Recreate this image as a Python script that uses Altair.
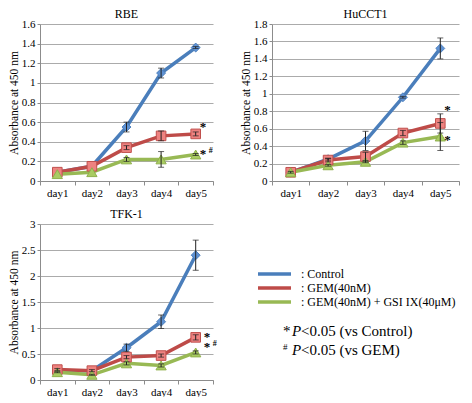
import altair as alt
import pandas as pd

days = ["day1", "day2", "day3", "day4", "day5"]
series = ["Control", "GEM(40nM)", "GEM(40nM) + GSI IX(40μM)"]

# RBE
rbe_control = [0.09, 0.15, 0.55, 1.10, 1.36]
rbe_gem = [0.09, 0.15, 0.34, 0.46, 0.48]
rbe_gsi = [0.07, 0.09, 0.22, 0.22, 0.27]
rbe_control_err = [0.0, 0.0, 0.05, 0.05, 0.01]
rbe_gem_err = [0.0, 0.0, 0.02, 0.05, 0.02]
rbe_gsi_err = [0.0, 0.0, 0.02, 0.08, 0.01]

# HuCCT1
hu_control = [0.10, 0.25, 0.46, 0.96, 1.52]
hu_gem = [0.10, 0.24, 0.28, 0.55, 0.66]
hu_gsi = [0.10, 0.18, 0.22, 0.44, 0.51]
hu_control_err = [0.01, 0.01, 0.11, 0.01, 0.12]
hu_gem_err = [0.0, 0.02, 0.05, 0.03, 0.11]
hu_gsi_err = [0.0, 0.01, 0.01, 0.02, 0.16]

# TFK-1
tfk_control = [0.18, 0.18, 0.62, 1.12, 2.40]
tfk_gem = [0.20, 0.18, 0.44, 0.47, 0.82]
tfk_gsi = [0.15, 0.10, 0.32, 0.28, 0.53]
tfk_control_err = [0.0, 0.0, 0.07, 0.13, 0.29]
tfk_gem_err = [0.02, 0.02, 0.03, 0.03, 0.05]
tfk_gsi_err = [0.01, 0.01, 0.03, 0.03, 0.03]

legend_labels = [": Control", ": GEM(40nM)", ": GEM(40nM) + GSI IX(40μM)"]
note_marks = ["*", "#"]
note_texts = ["<0.05 (vs Control)", "<0.05 (vs GEM)"]

line_colors = ["#4A7EBB", "#BE4B48", "#98B954"]
fill_colors = ["#5F92D4", "#EE8280", "#A9CC62"]
stroke_colors = ["#4F81BD", "#C0504D", "#8FB04C"]
shapes = ["diamond", "square", "triangle-up"]
sizes = [80, 105, 90]

SERIF = "Liberation Serif"

panels = {
    "RBE": ([rbe_control, rbe_gem, rbe_gsi], [rbe_control_err, rbe_gem_err, rbe_gsi_err]),
    "HuCCT1": ([hu_control, hu_gem, hu_gsi], [hu_control_err, hu_gem_err, hu_gsi_err]),
    "TFK-1": ([tfk_control, tfk_gem, tfk_gsi], [tfk_control_err, tfk_gem_err, tfk_gsi_err]),
}


def make_df(name):
    vals, errs = panels[name]
    rows = []
    for s, v, e in zip(series, vals, errs):
        for d, vv, ee in zip(days, v, e):
            rows.append({"day": d, "series": s, "mk": s, "value": vv, "err": ee,
                         "lo": vv - ee, "hi": vv + ee})
    return pd.DataFrame(rows)


def panel(name, ymax, ystep, width, height, notes):
    df = make_df(name)
    ticks = [round(i * ystep, 2) for i in range(int(round(ymax / ystep)) + 1)]
    xenc = alt.X("day:N", sort=days,
                 scale=alt.Scale(type="band", paddingInner=0, paddingOuter=0),
                 axis=alt.Axis(title=None, tickBand="extent", labelAngle=0, grid=False,
                               domainColor="#8c8c8c", tickColor="#8c8c8c", tickSize=4,
                               labelFont=SERIF, labelFontSize=11, labelColor="black",
                               labelPadding=2))

    def yenc(field):
        return alt.Y(f"{field}:Q", scale=alt.Scale(domain=[0, ymax], nice=False, zero=True),
                     axis=alt.Axis(title="Absorbance at 450 nm", values=ticks, format="~g",
                                   grid=True, gridColor="#ababab", gridWidth=1,
                                   domainColor="#8c8c8c", tickColor="#8c8c8c", tickSize=3,
                                   labelFont=SERIF, labelFontSize=11, labelColor="black",
                                   labelPadding=2, titleFont=SERIF, titleFontSize=11.5,
                                   titleFontWeight="normal", titleColor="black",
                                   titlePadding=2))

    base = alt.Chart(df)
    lines = base.mark_line(strokeWidth=3.5).encode(
        x=xenc, y=yenc("value"),
        color=alt.Color("series:N", scale=alt.Scale(domain=series, range=line_colors), legend=None),
    )
    pts = base.mark_point(filled=True, strokeWidth=1, opacity=1).encode(
        x=xenc, y=yenc("value"),
        fill=alt.Fill("mk:N", scale=alt.Scale(domain=series, range=fill_colors), legend=None),
        stroke=alt.Stroke("mk:N", scale=alt.Scale(domain=series, range=stroke_colors), legend=None),
        shape=alt.Shape("mk:N", scale=alt.Scale(domain=series, range=shapes), legend=None),
        size=alt.Size("mk:N", scale=alt.Scale(domain=series, range=sizes), legend=None),
    )
    ebase = alt.Chart(df[df["err"] > 0])
    erule = ebase.mark_rule(color="#222", strokeWidth=1).encode(x=xenc, y=yenc("lo"), y2="hi:Q")
    etop = ebase.mark_tick(color="#222", thickness=1, size=6).encode(x=xenc, y=yenc("hi"))
    ebot = ebase.mark_tick(color="#222", thickness=1, size=6).encode(x=xenc, y=yenc("lo"))

    layers = [lines, pts, erule, etop, ebot]
    for s, txt, dx, dy, fs in notes:
        sub = df[(df["day"] == "day5") & (df["series"] == s)].copy()
        sub["txt"] = txt
        layers.append(alt.Chart(sub).mark_text(font=SERIF, fontSize=fs, fontWeight="bold",
                                                color="black", align="left", dx=dx, dy=dy,
                                                baseline="middle").encode(
            x=xenc, y=yenc("value"), text="txt:N"))
    return alt.layer(*layers).properties(
        width=width, height=height,
        title=alt.TitleParams(name, font=SERIF, fontSize=12, fontWeight="normal",
                              color="black", offset=-3, frame="group"))


rbe = panel("RBE", 1.6, 0.2, 173, 157, [
    (series[1], "*", 4, -7, 13),
    (series[2], "*", 4, -1, 13),
    (series[2], "#", 13, -4, 8),
])
hu = panel("HuCCT1", 1.8, 0.2, 187, 157, [
    (series[1], "*", 4, -13, 13),
    (series[2], "*", 4, 3, 13),
])
tfk = panel("TFK-1", 3.0, 0.5, 173, 156, [
    (series[1], "*", 8, 0, 13),
    (series[1], "*", 8, 10, 13),
    (series[1], "#", 17, 7, 8),
])

# legend + significance notes panel
ldf = pd.DataFrame({"series": series, "label": legend_labels})
lb = alt.Chart(ldf)
ly = alt.Y("series:N", sort=series, axis=None,
           scale=alt.Scale(type="point", domain=series, range=[50, 78], padding=0))
leg_lines = lb.mark_rule(strokeWidth=3.5).encode(
    x=alt.value(12), x2=alt.value(45), y=ly,
    color=alt.Color("series:N", scale=alt.Scale(domain=series, range=line_colors), legend=None))
leg_text = lb.mark_text(font=SERIF, fontSize=12, align="left", baseline="middle",
                        color="black").encode(x=alt.value(55), y=ly, text="label:N")

nb = alt.Chart(pd.DataFrame({"dummy": [0]}))
note_layers = []
for i, (m, t) in enumerate(zip(note_marks, note_texts)):
    ybase = 112 + 19 * i
    msize = 15 if m == "*" else 9
    mdy = 0 if m == "*" else -5
    note_layers += [
        nb.mark_text(text=m, font=SERIF, fontSize=msize, align="left", baseline="alphabetic",
                     color="black", dy=mdy).encode(x=alt.value(37), y=alt.value(ybase)),
        nb.mark_text(text="P", font=SERIF, fontSize=15, fontStyle="italic", align="left",
                     baseline="alphabetic", color="black").encode(x=alt.value(46), y=alt.value(ybase)),
        nb.mark_text(text=t, font=SERIF, fontSize=15, align="left", baseline="alphabetic",
                     color="black").encode(x=alt.value(55), y=alt.value(ybase)),
    ]
notes_panel = alt.layer(leg_lines, leg_text, *note_layers).properties(width=190, height=145)

chart = alt.vconcat(
    alt.hconcat(rbe, hu, spacing=26),
    alt.hconcat(tfk, notes_panel, spacing=29),
    spacing=10,
).configure(font=SERIF).configure_view(stroke=None).properties(padding=0, background="white")

chart.save("out.html", embed_options={"renderer": "svg", "actions": False})
